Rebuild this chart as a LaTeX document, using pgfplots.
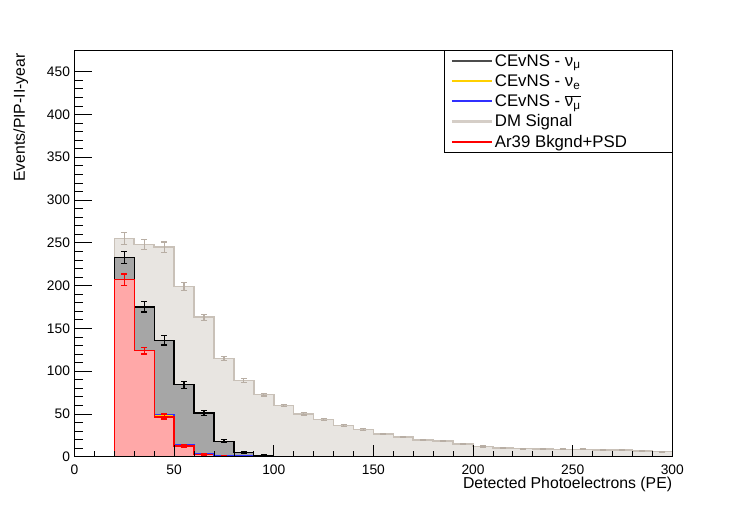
\documentclass[border=0pt]{standalone}
\usepackage{pgfplots}
\pgfplotsset{compat=1.18}
\usepackage{fontspec}
\setmainfont{Liberation Sans}
\definecolor{dmfill}{HTML}{E8E5E1}
\definecolor{dmline}{HTML}{C9C1B8}
\definecolor{dmleg}{HTML}{D5CEC7}
\definecolor{dmerr}{HTML}{B8AEA4}
\definecolor{numufill}{HTML}{A6A6A6}
\definecolor{arfill}{HTML}{FFA8A8}
\definecolor{nuecol}{HTML}{FFD000}
\definecolor{nubcol}{HTML}{3030FF}
\pgfplotsset{
  mybase/.style={
    at={(74.5bp,51.3bp)}, anchor=south west,
    width=597.8bp, height=406.4bp, scale only axis,
    xmin=0, xmax=300, ymin=0, ymax=475,
    tick align=inside, tick pos=left,
    every tick/.style={black, line width=0.8bp},
    axis line style={line width=0.8bp},
    /pgf/number format/assume math mode=true,
    tick label style={font=\fontsize{13.8bp}{16bp}\selectfont},
  }
}
\begin{document}
\begin{tikzpicture}
\useasboundingbox (0,0) rectangle (747bp,508bp);
\begin{axis}[
  mybase,
  xtick=\empty, ytick={0,50,...,450}, minor y tick num=4,
  major tick length=17bp, minor tick length=8.5bp,
  axis on top,
  yticklabel style={xshift=-1bp},
  ylabel={Events/PIP-II-year},
  ylabel style={at={([xshift=-49.5bp,yshift=-3bp]axis description cs:0,1)}, anchor=base east, inner sep=0pt, font=\fontsize{15.8bp}{18bp}\selectfont},
  legend image code/.code={\draw[#1,line width=2.2bp] (0bp,0bp) -- (40bp,0bp);},
  legend cell align=left,
  legend style={at={(axis description cs:1,1)}, anchor=north east, draw=black, line width=0.8bp, fill=white,
    font=\fontsize{16.8bp}{19bp}\selectfont, row sep=2.8bp, inner xsep=6bp, inner ysep=2bp},
]
% DM signal
\addplot[const plot mark left, fill=dmfill, draw=dmline, line width=1.6bp, forget plot] coordinates {
(0,0) (10,0) (20,255) (30,248) (40,245) (50,199) (60,163) (70,115) (80,89) (90,72.5)
(100,60) (110,50) (120,43.5) (130,36.5) (140,32) (150,26.5) (160,23) (170,19.5) (180,18) (190,15)
(200,12) (210,10.5) (220,9.5) (230,9) (240,8.5) (250,8.5) (260,8) (270,7.5) (280,7) (290,6) (300,6)} \closedcycle;
% CEvNS nu_mu
\addplot[const plot mark left, fill=numufill, draw=black, line width=1.3bp, forget plot] coordinates {
(0,0) (10,0) (20,233) (30,175) (40,136) (50,84) (60,51) (70,18) (80,5) (90,1.5)
(100,0.5) (110,0.2) (120,0) (300,0)} \closedcycle;
% nu_e and nubar_mu (under red)
\addplot[const plot mark left, draw=nuecol, line width=1.3bp, forget plot] coordinates {
(20,207) (30,124) (40,48.3) (50,13.5) (60,3) (70,1) (80,0.5) (90,0.3) (100,0.2) (110,0)};
\addplot[const plot mark left, draw=nubcol, line width=1.3bp, forget plot] coordinates {
(20,207) (30,124) (40,49) (50,14.2) (60,3.6) (70,1.6) (80,1) (90,0.6) (100,0.4) (110,0.3)};
% Ar39
\addplot[const plot mark left, fill=arfill, draw=red, line width=1.3bp, forget plot] coordinates {
(0,0) (10,0) (20,207) (30,124) (40,46.5) (50,12.5) (60,2.5) (70,0.8) (80,0.3) (90,0.1) (100,0) (300,0)} \closedcycle;
% blue tail on top
\addplot[const plot mark left, draw=nubcol, line width=1.3bp, forget plot] coordinates {
(60,3.6) (70,1.6) (80,1) (90,0.6) (100,0.4) (110,0.3) (120,0.25) (130,0.2) (140,0.2) (150,0.15)
(160,0.1) (170,0.1) (180,0.1) (190,0.1) (200,0.1) (300,0.1)};
% error bars DM
\addplot[draw=none, mark=none, forget plot, error bars/.cd, y dir=both, y explicit,
  error bar style={draw=dmerr, line width=1.2bp}, error mark options={draw=dmerr, rotate=90, mark size=3bp, line width=1.2bp}] coordinates {
(25,255) +- (0,7) (35,248) +- (0,6) (45,245) +- (0,6) (55,199) +- (0,4.5) (65,163) +- (0,3.5)
(75,115) +- (0,2.5) (85,89) +- (0,2) (95,72.5) +- (0,1.5) (105,60) +- (0,1.2) (115,50) +- (0,1.2)
(125,43.5) +- (0,1) (135,36.5) +- (0,1) (145,32) +- (0,1) (155,26.5) +- (0,0.8) (165,23) +- (0,0.8)
(175,19.5) +- (0,0.8) (185,18) +- (0,0.7) (195,15) +- (0,0.7) (205,12) +- (0,0.6) (215,10.5) +- (0,0.6)
(225,9.5) +- (0,0.5) (235,9) +- (0,0.5) (245,8.5) +- (0,0.5) (255,8.5) +- (0,0.5) (265,8) +- (0,0.5)
(275,7.5) +- (0,0.5) (285,7) +- (0,0.5) (295,6) +- (0,0.5)};
% error bars nu_mu
\addplot[draw=none, mark=none, forget plot, error bars/.cd, y dir=both, y explicit,
  error bar style={draw=black, line width=1.3bp}, error mark options={draw=black, rotate=90, mark size=3bp, line width=1.3bp}] coordinates {
(25,233) +- (0,7) (35,175) +- (0,6) (45,136) +- (0,5.5) (55,84) +- (0,4) (65,51) +- (0,3)
(75,18) +- (0,1.8) (85,5) +- (0,1.2) (95,1.5) +- (0,0.6)};
% error bars Ar39
\addplot[draw=none, mark=none, forget plot, error bars/.cd, y dir=both, y explicit,
  error bar style={draw=red, line width=1.3bp}, error mark options={draw=red, rotate=90, mark size=3bp, line width=1.3bp}] coordinates {
(25,207) +- (0,6.5) (35,124) +- (0,4) (45,47) +- (0,3) (55,13) +- (0,1.5) (65,3) +- (0,1) (75,1) +- (0,0.5)};
% legend
\addlegendimage{draw=black!70}
\addlegendentry{\makebox[169bp][l]{CEvNS - ν\textsubscript{μ}}}
\addlegendimage{draw=nuecol}
\addlegendentry{CEvNS - ν\textsubscript{e}}
\addlegendimage{draw=nubcol}
\addlegendentry{CEvNS - \mbox{$\overline{\hbox{ν\textsubscript{μ}}}$}}
\addlegendimage{draw=dmleg}
\addlegendentry{DM Signal}
\addlegendimage{draw=red}
\addlegendentry{Ar39 Bkgnd+PSD}
\end{axis}
% overlay axis for x ticks (shorter ticks)
\begin{axis}[
  mybase,
  ytick=\empty, xtick={0,50,...,300}, minor x tick num=4,
  major tick length=12bp, minor tick length=6bp,
  xticklabel style={yshift=-4.4bp},
  xlabel={Detected Photoelectrons (PE)},
  xlabel style={at={([yshift=-20bp]axis description cs:1,0)}, anchor=north east, inner sep=0pt, font=\fontsize{15.8bp}{18bp}\selectfont},
]
\addplot[draw=none, mark=none] coordinates {(0,0) (300,0)};
\end{axis}
\end{tikzpicture}
\end{document}
